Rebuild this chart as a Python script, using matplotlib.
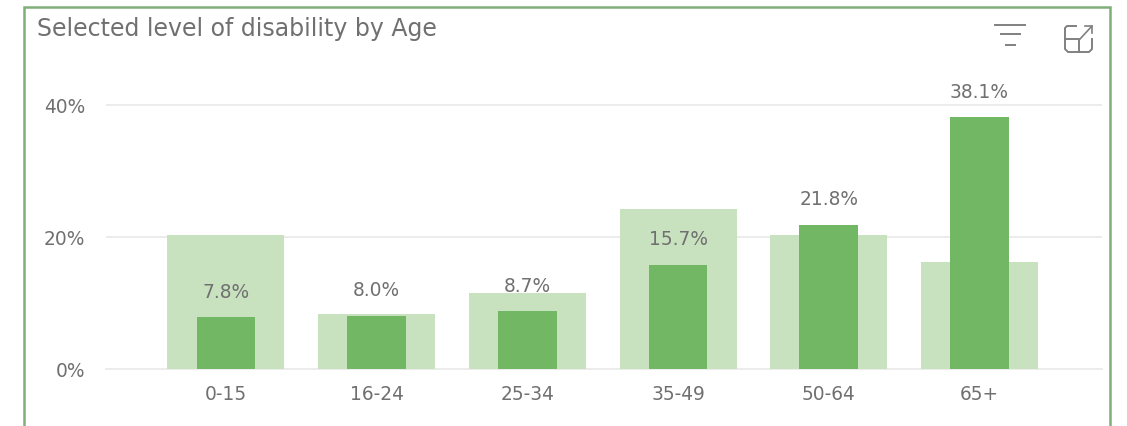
import matplotlib
matplotlib.use("Agg")
import matplotlib.pyplot as plt
from matplotlib.lines import Line2D

categories = ["0-15", "16-24", "25-34", "35-49", "50-64", "65+"]
overall = [20.3, 8.3, 11.4, 24.1, 20.2, 16.2]
selected = [7.8, 8.0, 8.7, 15.7, 21.8, 38.1]
y_ticks = [0, 20, 40]
title = "Selected level of disability by Age"

W, H = 1127, 427
plt.rcParams["font.family"] = ["DejaVu Sans"]
fig = plt.figure(figsize=(W / 100, H / 100), dpi=100, facecolor="white")

def fx(x): return x / W
def fy(y): return 1 - y / H

# axes: px x 106..1102, baseline y=369.5, top y=60
ax = fig.add_axes([fx(106), fy(369.5), (1102 - 106) / W, (369.5 - 60) / H])
ax.set_facecolor("none")
ax.set_xlim(-0.796, 5.813)
ax.set_ylim(0, (369.5 - 60) / 6.6)
ax.set_yticks(y_ticks)
ax.set_yticklabels([f"{v}%" for v in y_ticks])
ax.set_xticks(range(len(categories)))
ax.set_xticklabels(categories)
ax.tick_params(length=0, labelcolor="#707070", labelsize=13.4)
ax.tick_params(axis="x", pad=11.5)
ax.tick_params(axis="y", pad=15)
for s in ax.spines.values():
    s.set_visible(False)
ax.grid(axis="y", color="#ebebeb", lw=1.3)
ax.set_axisbelow(True)
ax.get_ygridlines()[0].set_clip_on(False)

xs = range(len(categories))
ax.bar(xs, overall, width=0.776, color="#c8e2bf", lw=0)
ax.bar(xs, selected, width=0.39, color="#72b763", lw=0)
for x, v in zip(xs, selected):
    ax.annotate(f"{v:.1f}%", (x, v), xytext=(0, 18.7), textcoords="offset points",
                ha="center", va="center", color="#707070", fontsize=13.4)

# visual frame, open at the bottom
frame_color = "#7fae78"
def pxline(xv, yv, color, lw, **kw):
    fig.add_artist(Line2D([fx(x) for x in xv], [fy(y) for y in yv],
                          color=color, lw=lw, transform=fig.transFigure, **kw))
pxline([23.5, 23.5, 1110, 1110], [430, 8, 8, 430], frame_color, 1.8, solid_joinstyle="miter")

fig.text(fx(37), fy(29), title, color="#707070", fontsize=17, ha="left", va="center")

# filter icon
icon = "#808080"
pxline([995, 1025], [26, 26], icon, 1.4)
pxline([1001, 1020], [35, 35], icon, 1.4)
pxline([1006, 1015], [46, 46], icon, 1.4)
# focus-mode icon
pxline([1076, 1067, 1065, 1065, 1068, 1089, 1092, 1092],
       [27, 27, 29, 50, 53, 53, 50, 40], icon, 1.4)
pxline([1065, 1079, 1079], [40, 40, 53], icon, 1.4)
pxline([1080, 1092], [40, 27], icon, 1.2)
pxline([1085, 1092, 1092], [27, 27, 34], icon, 1.2)

fig.savefig("out.png", dpi=100)
